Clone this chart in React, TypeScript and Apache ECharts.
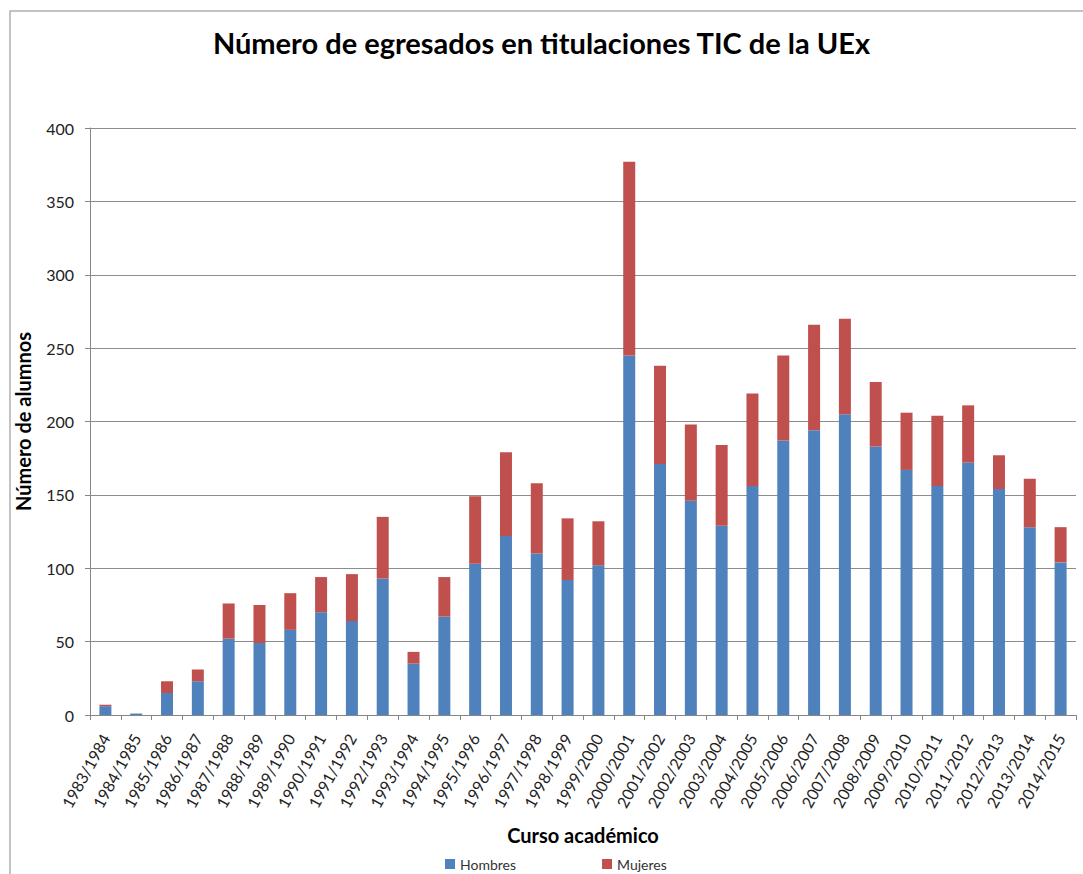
import React, { useEffect, useRef } from "react";
import * as echarts from "echarts";

const categories = [
  "1983/1984", "1984/1985", "1985/1986", "1986/1987", "1987/1988", "1988/1989",
  "1989/1990", "1990/1991", "1991/1992", "1992/1993", "1993/1994", "1994/1995",
  "1995/1996", "1996/1997", "1997/1998", "1998/1999", "1999/2000", "2000/2001",
  "2001/2002", "2002/2003", "2003/2004", "2004/2005", "2005/2006", "2006/2007",
  "2007/2008", "2008/2009", "2009/2010", "2010/2011", "2011/2012", "2012/2013",
  "2013/2014", "2014/2015",
];

const hombres = [
  6, 1, 15, 23, 52, 49, 58, 70, 64, 93, 35, 67,
  103, 122, 110, 92, 102, 245, 171, 146, 129, 156, 187, 194,
  205, 183, 167, 156, 172, 154, 128, 104,
];

const mujeres = [
  1, 0, 8, 8, 24, 26, 25, 24, 32, 42, 8, 27,
  46, 57, 48, 42, 30, 132, 67, 52, 55, 63, 58, 72,
  65, 44, 39, 48, 39, 23, 33, 24,
];

const yTicks = { min: 0, max: 400, interval: 50 };

const FONT = "Lato, 'Open Sans', sans-serif";

export default function App() {
  const ref = useRef<HTMLDivElement>(null);

  useEffect(() => {
    if (!ref.current) return;
    const chart = echarts.init(ref.current, undefined, { renderer: "svg" });
    chart.setOption({
      animation: false,
      backgroundColor: "#ffffff",
      textStyle: { fontFamily: FONT },
      title: {
        text: "Número de egresados en titulaciones TIC de la UEx",
        left: "center",
        top: 23,
        textStyle: { fontFamily: FONT, fontSize: 29, fontWeight: "bold", color: "#000" },
      },
      graphic: [
        {
          type: "rect",
          shape: { x: 10, y: 11, width: 1100, height: 900 },
          style: { fill: "none", stroke: "#b0b0b0", lineWidth: 1.5 },
          silent: true,
        },
      ],
      legend: {
        data: ["Hombres", "Mujeres"],
        left: 440,
        top: 852,
        itemWidth: 10,
        itemHeight: 10,
        itemGap: 86,
        icon: "rect",
        textStyle: { fontFamily: FONT, fontSize: 14, color: "#333" },
      },
      grid: { left: 90, right: 7, top: 128, bottom: 159 },
      xAxis: {
        type: "category",
        data: categories,
        name: "Curso académico",
        nameLocation: "middle",
        nameGap: 110,
        nameTextStyle: { fontFamily: FONT, fontSize: 20, fontWeight: "bold", color: "#000" },
        axisLine: { lineStyle: { color: "#868686" } },
        axisTick: { show: true, length: 5, lineStyle: { color: "#868686" } },
        axisLabel: { rotate: 61, fontSize: 16, color: "#222", margin: 20, interval: 0 },
      },
      yAxis: {
        type: "value",
        min: yTicks.min,
        max: yTicks.max,
        interval: yTicks.interval,
        name: "Número de alumnos",
        nameLocation: "middle",
        nameGap: 57,
        nameTextStyle: { fontFamily: FONT, fontSize: 20, fontWeight: "bold", color: "#000" },
        axisLine: { show: true, lineStyle: { color: "#868686" } },
        axisTick: { show: true, length: 5, lineStyle: { color: "#868686" } },
        axisLabel: { fontSize: 16, color: "#222", margin: 16 },
        splitLine: { lineStyle: { color: "#8c8c8c", width: 1 } },
      },
      series: [
        {
          name: "Hombres",
          type: "bar",
          stack: "total",
          data: hombres,
          barWidth: 12,
          itemStyle: { color: "#4F81BD" },
        },
        {
          name: "Mujeres",
          type: "bar",
          stack: "total",
          data: mujeres,
          barWidth: 12,
          itemStyle: { color: "#C0504D" },
        },
      ],
    });
    return () => chart.dispose();
  }, []);

  return (
    <div
      ref={ref}
      style={{ position: "fixed", left: 0, top: 0, width: 1083, height: 874 }}
    />
  );
}
